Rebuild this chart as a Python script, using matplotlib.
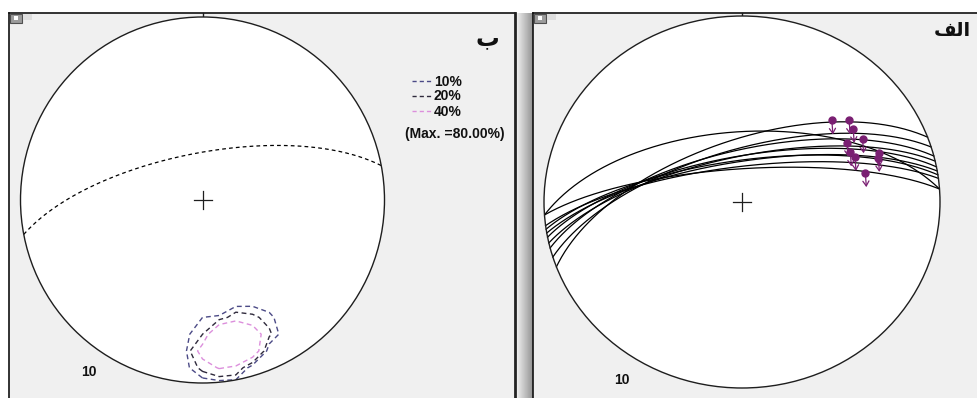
import numpy as np
import matplotlib
matplotlib.use("Agg")
import matplotlib.pyplot as plt
from matplotlib.patches import Circle, Rectangle

# Fault planes (dip direction / dip, degrees)
plane_dip_dir = [339.6, 342.8, 345.7, 347.3, 349.1, 350.4, 351.6, 352.7, 356.0, 356.0]
plane_dip = [63.0, 67.0, 67.5, 70.2, 70.0, 72.4, 71.8, 74.5, 75.5, 59.0]

# Slickenside striations (trend / plunge, degrees)
lin_trend = [46, 51, 55, 61, 59, 64, 67, 69, 71, 76]
lin_plunge = [37, 31, 32, 31, 38, 39, 38, 27, 28, 36]

# Pole-density contours
contour_levels = [10, 20, 40]
contour_labels = ["10%", "20%", "40%"]
contour_colors = ["#4b4a86", "#2f2a3c", "#dc8fdc"]
max_label = "(Max. =80.00%)"
count_label = "10"

W, H = 977, 398
PANEL_BG = "#f0f0f0"
LINE_PURPLE = "#7a1f72"


def project(trend, plunge):
    """Lower-hemisphere equal-area (Schmidt) projection."""
    t = np.radians(trend)
    p = np.radians(plunge)
    r = np.sqrt(2.0) * np.sin((np.pi / 2 - p) / 2)
    return r * np.sin(t), r * np.cos(t)


def vec(trend, plunge):
    t = np.radians(np.asarray(trend, float))
    p = np.radians(np.asarray(plunge, float))
    return np.stack([np.cos(p) * np.sin(t), np.cos(p) * np.cos(t), np.sin(p)], axis=-1)


def plane_trace(dd, dip, n=241):
    st = np.radians(dd - 90)
    d = np.radians(dd)
    dp = np.radians(dip)
    s = np.array([np.sin(st), np.cos(st), 0.0])
    dv = np.array([np.sin(d) * np.cos(dp), np.cos(d) * np.cos(dp), np.sin(dp)])
    th = np.linspace(0, np.pi, n)
    v = np.outer(np.cos(th), s) + np.outer(np.sin(th), dv)
    plunge = np.degrees(np.arcsin(np.clip(v[:, 2], -1, 1)))
    trend = np.degrees(np.arctan2(v[:, 0], v[:, 1]))
    return project(trend, plunge)


fig = plt.figure(figsize=(W / 100, H / 100), dpi=100, facecolor="white")
bg = fig.add_axes([0, 0, 1, 1])
bg.set_xlim(0, W)
bg.set_ylim(H, 0)
bg.axis("off")

# window frames
bg.add_patch(Rectangle((9, 13), 506, 400, fc=PANEL_BG, ec="none"))
bg.add_patch(Rectangle((533, 13), 460, 400, fc=PANEL_BG, ec="none"))
grad = np.linspace(0.95, 0.58, 32)[None, :]
bg.imshow(grad, extent=(516, 533, H, 13), cmap="gray", vmin=0, vmax=1,
          aspect="auto", interpolation="bilinear", zorder=1)
for (x0, x1) in [(9, 515), (533, 977)]:
    bg.plot([x0, x1], [13, 13], color="#111111", lw=1.2, zorder=3)
    bg.plot([x0, x0], [13, H], color="#111111", lw=1.2, zorder=3)
bg.plot([514.5, 514.5], [13, H], color="#222222", lw=2.0, zorder=3)

# small window icons
for x0 in (10, 534):
    bg.add_patch(Rectangle((x0, 13.5), 12, 9, fc="#9c9c9c", ec="#505050", lw=0.8, zorder=4))
    bg.add_patch(Rectangle((x0 + 4, 16), 3.5, 3.5, fc="white", ec="none", zorder=5))
    bg.add_patch(Rectangle((x0 + 13, 13.5), 9, 6, fc="#dedede", ec="none", zorder=4))


def net_axes(cx, cy, rx, ry):
    ax = fig.add_axes([(cx - rx) / W, (H - cy - ry) / H, 2 * rx / W, 2 * ry / H])
    ax.set_xlim(-1, 1)
    ax.set_ylim(-1, 1)
    ax.axis("off")
    prim = Circle((0, 0), 1, fc="white", ec="none", zorder=0)
    ax.add_patch(prim)
    ax.add_patch(Circle((0, 0), 1, fc="none", ec="#1e1e1e", lw=1.0, zorder=6, clip_on=False))
    ax.plot([-9 / rx, 9 / rx], [0, 0], color="#1e1e1e", lw=0.9, zorder=6)
    ax.plot([0, 0], [-9 / ry, 9 / ry], color="#1e1e1e", lw=0.9, zorder=6)
    bg.plot([cx, cx], [13, cy - ry], color="#1e1e1e", lw=1.0, zorder=3)
    return ax, prim


# ---- left net: pole density (counting circle on a coarse grid) and mean plane ----
axL, primL = net_axes(202.5, 200, 182, 183)

poles = vec(np.array(plane_dip_dir) + 180.0, 90.0 - np.array(plane_dip))
g = np.linspace(-1.1, 1.1, 25)
GX, GY = np.meshgrid(g, g)
rho = np.clip(np.hypot(GX, GY), 1e-9, np.sqrt(2) - 1e-9)
phi = 2 * np.arcsin(rho / np.sqrt(2))
gv = np.stack([np.sin(phi) * GX / rho, np.sin(phi) * GY / rho, np.cos(phi)], axis=-1)
ang = np.degrees(np.arccos(np.clip(np.abs(gv @ poles.T), 0, 1)))
cone, soft = 11.5, 2.5
weight = np.clip((cone + soft - ang) / (2 * soft), 0, 1)
density = 100.0 * weight.sum(axis=-1) / len(poles)

cs = axL.contour(GX, GY, density, levels=contour_levels, colors=contour_colors,
                 linewidths=1.0, linestyles=[(0, (3.5, 2.5))], zorder=3)
cs.set_clip_path(primL)

mean_pole = poles.sum(axis=0)
mean_pole /= np.linalg.norm(mean_pole)
mp_trend = np.degrees(np.arctan2(mean_pole[0], mean_pole[1]))
mp_plunge = np.degrees(np.arcsin(mean_pole[2]))
mx, my = plane_trace(mp_trend + 180.0, 90.0 - mp_plunge)
axL.plot(mx, my, color="black", lw=0.9, ls=(0, (3, 2.5)), zorder=4)

# legend
for lab, col, y in zip(contour_labels, contour_colors, [81, 96, 111]):
    bg.plot([412, 431], [y, y], color=col, lw=1.0, ls=(0, (3, 2.2)), zorder=5)
    bg.text(434, y + 0.5, lab, ha="left", va="center", fontsize=10, fontweight="bold",
            family="Liberation Sans", color="#111111", zorder=5)
bg.text(405, 134, max_label, ha="left", va="center", fontsize=10, fontweight="bold",
        family="Liberation Sans", color="#111111", zorder=5)

# ---- right net: fault planes with striations ----
axR, primR = net_axes(742, 202, 198, 186)
for dd, dp in zip(plane_dip_dir, plane_dip):
    px, py = plane_trace(dd, dp)
    axR.plot(px, py, color="black", lw=0.9, zorder=3)

lx, ly = project(np.array(lin_trend), np.array(lin_plunge))
for x, y in zip(lx, ly):
    axR.annotate("", xy=(x, y), xytext=(1, -14), textcoords="offset pixels",
                 arrowprops=dict(arrowstyle="<-,head_length=0.35,head_width=0.22",
                                 color=LINE_PURPLE, lw=0.9, shrinkA=0, shrinkB=0),
                 zorder=5)
axR.plot(lx, ly, "o", ms=5.0, color=LINE_PURPLE, mec=LINE_PURPLE, zorder=6)

# panel captions
bg.text(487, 38, "\u0628", ha="center", va="center", fontsize=17, fontweight="bold",
        family="DejaVu Sans", color="#111111", zorder=5)
bg.text(952, 31, "\uFED2\uFEDF\uFE8D", ha="center", va="center", fontsize=14,
        fontweight="bold", family="DejaVu Sans", color="#111111", zorder=5)
bg.text(89, 372, count_label, ha="center", va="center", fontsize=10, fontweight="bold",
        family="Liberation Sans", color="#111111", zorder=5)
bg.text(622, 380, count_label, ha="center", va="center", fontsize=10, fontweight="bold",
        family="Liberation Sans", color="#111111", zorder=5)

fig.savefig("out.png", dpi=100, facecolor="white")
